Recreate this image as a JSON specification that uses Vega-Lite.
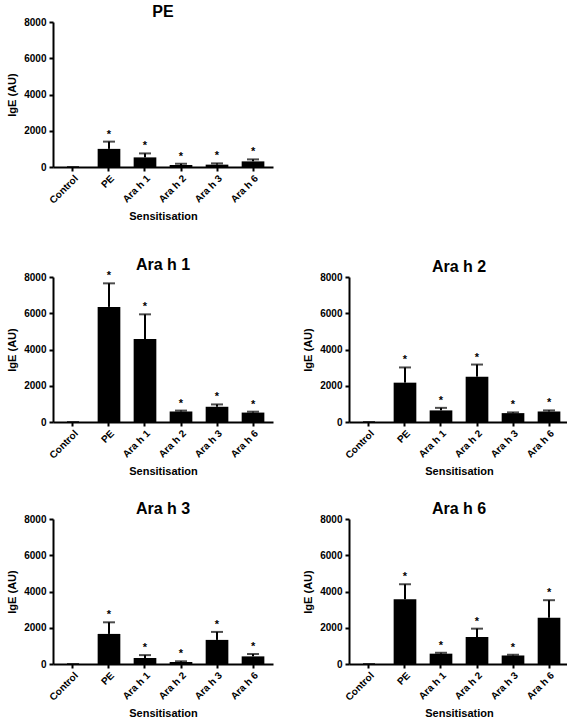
{
  "$schema": "https://vega.github.io/schema/vega-lite/v6.json",
  "padding": {"left": 6, "top": 4, "right": 2, "bottom": 0},
  "background": "white",
  "datasets": {
    "igE": [
      {"panel": "PE", "group": "Control", "mean": 0, "upper": 0, "sig": ""},
      {"panel": "PE", "group": "PE", "mean": 1000, "upper": 1400, "sig": "*"},
      {"panel": "PE", "group": "Ara h 1", "mean": 530, "upper": 750, "sig": "*"},
      {"panel": "PE", "group": "Ara h 2", "mean": 110, "upper": 180, "sig": "*"},
      {"panel": "PE", "group": "Ara h 3", "mean": 130, "upper": 200, "sig": "*"},
      {"panel": "PE", "group": "Ara h 6", "mean": 310, "upper": 420, "sig": "*"},
      {"panel": "Ara h 1", "group": "Control", "mean": 0, "upper": 0, "sig": ""},
      {"panel": "Ara h 1", "group": "PE", "mean": 6350, "upper": 7650, "sig": "*"},
      {"panel": "Ara h 1", "group": "Ara h 1", "mean": 4580, "upper": 5940, "sig": "*"},
      {"panel": "Ara h 1", "group": "Ara h 2", "mean": 580, "upper": 630, "sig": "*"},
      {"panel": "Ara h 1", "group": "Ara h 3", "mean": 840, "upper": 970, "sig": "*"},
      {"panel": "Ara h 1", "group": "Ara h 6", "mean": 520, "upper": 570, "sig": "*"},
      {"panel": "Ara h 2", "group": "Control", "mean": 0, "upper": 0, "sig": ""},
      {"panel": "Ara h 2", "group": "PE", "mean": 2170, "upper": 3010, "sig": "*"},
      {"panel": "Ara h 2", "group": "Ara h 1", "mean": 640, "upper": 780, "sig": "*"},
      {"panel": "Ara h 2", "group": "Ara h 2", "mean": 2500, "upper": 3170, "sig": "*"},
      {"panel": "Ara h 2", "group": "Ara h 3", "mean": 490, "upper": 530, "sig": "*"},
      {"panel": "Ara h 2", "group": "Ara h 6", "mean": 580, "upper": 640, "sig": "*"},
      {"panel": "Ara h 3", "group": "Control", "mean": 0, "upper": 0, "sig": ""},
      {"panel": "Ara h 3", "group": "PE", "mean": 1660, "upper": 2300, "sig": "*"},
      {"panel": "Ara h 3", "group": "Ara h 1", "mean": 330, "upper": 490, "sig": "*"},
      {"panel": "Ara h 3", "group": "Ara h 2", "mean": 110, "upper": 150, "sig": "*"},
      {"panel": "Ara h 3", "group": "Ara h 3", "mean": 1330, "upper": 1770, "sig": "*"},
      {"panel": "Ara h 3", "group": "Ara h 6", "mean": 420, "upper": 550, "sig": "*"},
      {"panel": "Ara h 6", "group": "Control", "mean": 0, "upper": 0, "sig": ""},
      {"panel": "Ara h 6", "group": "PE", "mean": 3570, "upper": 4400, "sig": "*"},
      {"panel": "Ara h 6", "group": "Ara h 1", "mean": 570, "upper": 620, "sig": "*"},
      {"panel": "Ara h 6", "group": "Ara h 2", "mean": 1490, "upper": 1950, "sig": "*"},
      {"panel": "Ara h 6", "group": "Ara h 3", "mean": 470, "upper": 510, "sig": "*"},
      {"panel": "Ara h 6", "group": "Ara h 6", "mean": 2550, "upper": 3520, "sig": "*"}
    ]
  },
  "data": {"name": "igE"},
  "spacing": 35,
  "vconcat": [
    {"hconcat": [
      {
        "width": 220, "height": 145, "title": "PE",
        "transform": [{"filter": "datum.panel === 'PE'"}],
        "encoding": {"x": {"field": "group", "type": "nominal", "sort": ["Control", "PE", "Ara h 1", "Ara h 2", "Ara h 3", "Ara h 6"], "title": "Sensitisation", "scale": {"paddingInner": 0.37, "paddingOuter": 0.24}}},
        "layer": [
          {"mark": {"type": "bar", "color": "black"}, "encoding": {"y": {"field": "mean", "type": "quantitative", "title": "IgE (AU)", "scale": {"domain": [0, 8000], "nice": false}}}},
          {"mark": {"type": "rule", "strokeWidth": 2, "color": "black"}, "encoding": {"y": {"field": "mean", "type": "quantitative"}, "y2": {"field": "upper"}}},
          {"mark": {"type": "tick", "thickness": 2, "size": 12, "color": "black"}, "encoding": {"y": {"field": "upper", "type": "quantitative"}}},
          {"mark": {"type": "text", "dy": -7, "fontSize": 11, "fontWeight": "bold", "color": "black"}, "encoding": {"y": {"field": "upper", "type": "quantitative"}, "text": {"field": "sig"}}}
        ]
      }
    ]},
    {"spacing": 24, "vconcat": [
      {"hconcat": [
        {
          "width": 220, "height": 145, "title": "Ara h 1",
          "transform": [{"filter": "datum.panel === 'Ara h 1'"}],
          "encoding": {"x": {"field": "group", "type": "nominal", "sort": ["Control", "PE", "Ara h 1", "Ara h 2", "Ara h 3", "Ara h 6"], "title": "Sensitisation", "scale": {"paddingInner": 0.37, "paddingOuter": 0.24}}},
          "layer": [
            {"mark": {"type": "bar", "color": "black"}, "encoding": {"y": {"field": "mean", "type": "quantitative", "title": "IgE (AU)", "scale": {"domain": [0, 8000], "nice": false}}}},
            {"mark": {"type": "rule", "strokeWidth": 2, "color": "black"}, "encoding": {"y": {"field": "mean", "type": "quantitative"}, "y2": {"field": "upper"}}},
            {"mark": {"type": "tick", "thickness": 2, "size": 12, "color": "black"}, "encoding": {"y": {"field": "upper", "type": "quantitative"}}},
            {"mark": {"type": "text", "dy": -7, "fontSize": 11, "fontWeight": "bold", "color": "black"}, "encoding": {"y": {"field": "upper", "type": "quantitative"}, "text": {"field": "sig"}}}
          ]
        },
        {
          "width": 220, "height": 145, "title": "Ara h 2",
          "transform": [{"filter": "datum.panel === 'Ara h 2'"}],
          "encoding": {"x": {"field": "group", "type": "nominal", "sort": ["Control", "PE", "Ara h 1", "Ara h 2", "Ara h 3", "Ara h 6"], "title": "Sensitisation", "scale": {"paddingInner": 0.37, "paddingOuter": 0.24}}},
          "layer": [
            {"mark": {"type": "bar", "color": "black"}, "encoding": {"y": {"field": "mean", "type": "quantitative", "title": "IgE (AU)", "scale": {"domain": [0, 8000], "nice": false}}}},
            {"mark": {"type": "rule", "strokeWidth": 2, "color": "black"}, "encoding": {"y": {"field": "mean", "type": "quantitative"}, "y2": {"field": "upper"}}},
            {"mark": {"type": "tick", "thickness": 2, "size": 12, "color": "black"}, "encoding": {"y": {"field": "upper", "type": "quantitative"}}},
            {"mark": {"type": "text", "dy": -7, "fontSize": 11, "fontWeight": "bold", "color": "black"}, "encoding": {"y": {"field": "upper", "type": "quantitative"}, "text": {"field": "sig"}}}
          ]
        }
      ]},
      {"hconcat": [
        {
          "width": 220, "height": 145, "title": "Ara h 3",
          "transform": [{"filter": "datum.panel === 'Ara h 3'"}],
          "encoding": {"x": {"field": "group", "type": "nominal", "sort": ["Control", "PE", "Ara h 1", "Ara h 2", "Ara h 3", "Ara h 6"], "title": "Sensitisation", "scale": {"paddingInner": 0.37, "paddingOuter": 0.24}}},
          "layer": [
            {"mark": {"type": "bar", "color": "black"}, "encoding": {"y": {"field": "mean", "type": "quantitative", "title": "IgE (AU)", "scale": {"domain": [0, 8000], "nice": false}}}},
            {"mark": {"type": "rule", "strokeWidth": 2, "color": "black"}, "encoding": {"y": {"field": "mean", "type": "quantitative"}, "y2": {"field": "upper"}}},
            {"mark": {"type": "tick", "thickness": 2, "size": 12, "color": "black"}, "encoding": {"y": {"field": "upper", "type": "quantitative"}}},
            {"mark": {"type": "text", "dy": -7, "fontSize": 11, "fontWeight": "bold", "color": "black"}, "encoding": {"y": {"field": "upper", "type": "quantitative"}, "text": {"field": "sig"}}}
          ]
        },
        {
          "width": 220, "height": 145, "title": "Ara h 6",
          "transform": [{"filter": "datum.panel === 'Ara h 6'"}],
          "encoding": {"x": {"field": "group", "type": "nominal", "sort": ["Control", "PE", "Ara h 1", "Ara h 2", "Ara h 3", "Ara h 6"], "title": "Sensitisation", "scale": {"paddingInner": 0.37, "paddingOuter": 0.24}}},
          "layer": [
            {"mark": {"type": "bar", "color": "black"}, "encoding": {"y": {"field": "mean", "type": "quantitative", "title": "IgE (AU)", "scale": {"domain": [0, 8000], "nice": false}}}},
            {"mark": {"type": "rule", "strokeWidth": 2, "color": "black"}, "encoding": {"y": {"field": "mean", "type": "quantitative"}, "y2": {"field": "upper"}}},
            {"mark": {"type": "tick", "thickness": 2, "size": 12, "color": "black"}, "encoding": {"y": {"field": "upper", "type": "quantitative"}}},
            {"mark": {"type": "text", "dy": -7, "fontSize": 11, "fontWeight": "bold", "color": "black"}, "encoding": {"y": {"field": "upper", "type": "quantitative"}, "text": {"field": "sig"}}}
          ]
        }
      ]}
    ]}
  ],
  "config": {
    "font": "Liberation Sans",
    "view": {"stroke": null},
    "concat": {"spacing": 29},
    "title": {"fontSize": 16, "fontWeight": "bold", "color": "black", "anchor": "middle", "offset": -3, "font": "Liberation Sans"},
    "axis": {
      "grid": false,
      "domainColor": "black", "domainWidth": 2,
      "tickColor": "black", "tickWidth": 2, "tickSize": 4,
      "labelColor": "black", "labelFont": "Liberation Sans", "labelFontWeight": "bold", "labelFontSize": 10,
      "titleColor": "black", "titleFont": "Liberation Sans", "titleFontWeight": "bold", "titleFontSize": 11
    },
    "axisX": {"labelAngle": -45, "labelAlign": "right", "labelBaseline": "top", "titlePadding": 5, "labelPadding": 2},
    "axisY": {"titlePadding": 6, "labelPadding": 3, "tickCount": 4, "format": "d", "labelOverlap": false}
  }
}
